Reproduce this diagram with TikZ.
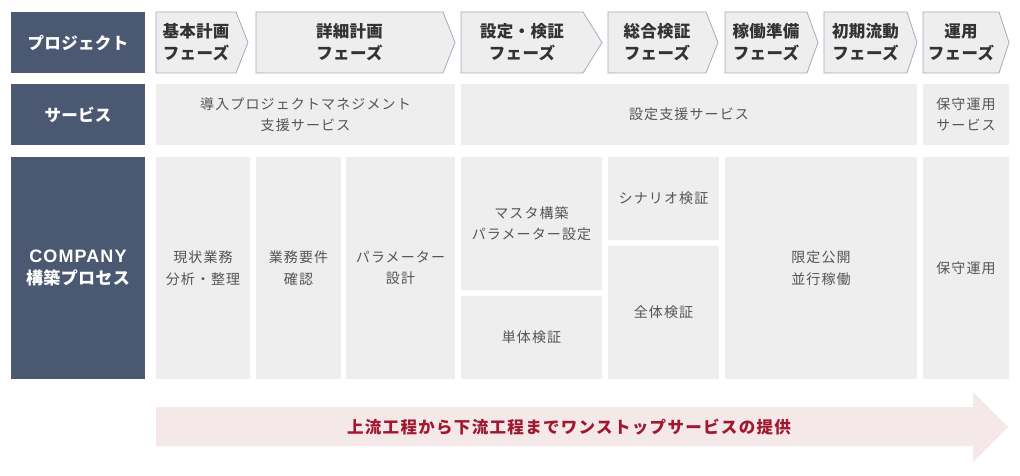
\documentclass[tikz,border=0pt]{standalone}
\usepackage{fontspec}
\setmainfont{Noto Sans CJK JP}
\newfontfamily\jpbody[LetterSpace=8]{Noto Sans CJK JP}
\newfontfamily\jphead[LetterSpace=2]{Noto Sans CJK JP}
\newfontfamily\latinhead[LetterSpace=6]{Liberation Sans}
\definecolor{darkbg}{HTML}{4A5971}
\definecolor{lightbg}{HTML}{EEEEEE}
\definecolor{phaseline}{HTML}{A3ABBB}
\definecolor{headtxt}{HTML}{333333}
\definecolor{bodytxt}{HTML}{555555}
\definecolor{flowbg}{HTML}{F5E8E9}
\definecolor{flowtxt}{HTML}{A01830}
\tikzset{
  darkbox/.style={fill=darkbg, inner sep=0pt, text=white, align=center,
    font=\jphead\bfseries\fontsize{16.5}{22}\selectfont},
  lightbox/.style={fill=lightbg, inner sep=0pt, text=bodytxt, align=center,
    font=\jpbody\fontsize{14}{21.5}\selectfont},
  phaseshape/.style={fill=lightbg, draw=phaseline, line width=0.8pt},
  phasetext/.style={inner sep=0pt, text=headtxt, align=center,
    font=\jphead\bfseries\fontsize{16.5}{22}\selectfont},
  flowtext/.style={inner sep=0pt, text=flowtxt,
    font=\jpbody\bfseries\fontsize{16.5}{20}\selectfont},
}
\newcommand\mkphase[5]{%
  \draw[phaseshape] (#2,12) -- (#3,12) -- (#4,42.5) -- (#3,73) -- (#2,73) -- cycle;
  \node[phasetext] (#1) at ({(#2+#3)/2},42.5) {#5};}
\begin{document}
\begin{tikzpicture}[x=1pt,y=-1pt]
\useasboundingbox (0,0) rectangle (1020,476);
% left labels
\node[darkbox, minimum width=134, minimum height=61] (lproj) at (78,42.5) {プロジェクト};
\node[darkbox, minimum width=134, minimum height=61] (lserv) at (78,114.5) {サービス};
\node[darkbox, minimum width=134, minimum height=222, font=\jphead\bfseries\fontsize{17}{22.5}\selectfont] (lproc) at (78,268) {{\latinhead\bfseries\fontsize{18}{22.5}\selectfont COMPANY}\\構築プロセス};
% phases
\mkphase{p1}{156}{236}{248}{基本計画\\フェーズ}
\mkphase{p2}{256}{443}{455}{詳細計画\\フェーズ}
\mkphase{p3}{461}{583}{602}{設定・検証\\フェーズ}
\mkphase{p4}{608}{706}{718}{総合検証\\フェーズ}
\mkphase{p5}{725}{807}{818}{稼働準備\\フェーズ}
\mkphase{p6}{824}{907}{917}{初期流動\\フェーズ}
\mkphase{p7}{923}{999}{1009}{運用\\フェーズ}
% services
\node[lightbox, minimum width=299, minimum height=61] (s1) at (305.5,114.5) {導入プロジェクトマネジメント\\支援サービス};
\node[lightbox, minimum width=456, minimum height=61] (s2) at (689,114.5) {設定支援サービス};
\node[lightbox, minimum width=86, minimum height=61] (s3) at (966,114.5) {保守運用\\サービス};
% process
\node[lightbox, minimum width=94, minimum height=222] (c1) at (203,268) {現状業務\\分析・整理};
\node[lightbox, minimum width=85, minimum height=222] (c2) at (298.5,268) {業務要件\\確認};
\node[lightbox, minimum width=109, minimum height=222] (c3) at (400.5,268) {パラメーター\\設計};
\node[lightbox, minimum width=141, minimum height=133] (c4a) at (531.5,223.5) {マスタ構築\\パラメーター設定};
\node[lightbox, minimum width=141, minimum height=83] (c4b) at (531.5,337.5) {単体検証};
\node[lightbox, minimum width=111, minimum height=83] (c5a) at (663.5,198.5) {シナリオ検証};
\node[lightbox, minimum width=111, minimum height=133] (c5b) at (663.5,312.5) {全体検証};
\node[lightbox, minimum width=192, minimum height=222] (c6) at (821,268) {限定公開\\並行稼働};
\node[lightbox, minimum width=86, minimum height=222] (c7) at (966,268) {保守運用};
% flow arrow
\fill[flowbg] (156,407) -- (973,407) -- (973,392) -- (1008,427) -- (973,462) -- (973,446) -- (156,446) -- cycle;
\node[flowtext] (flow) at (569,427) {上流工程から下流工程までワンストップサービスの提供};
\end{tikzpicture}
\end{document}
